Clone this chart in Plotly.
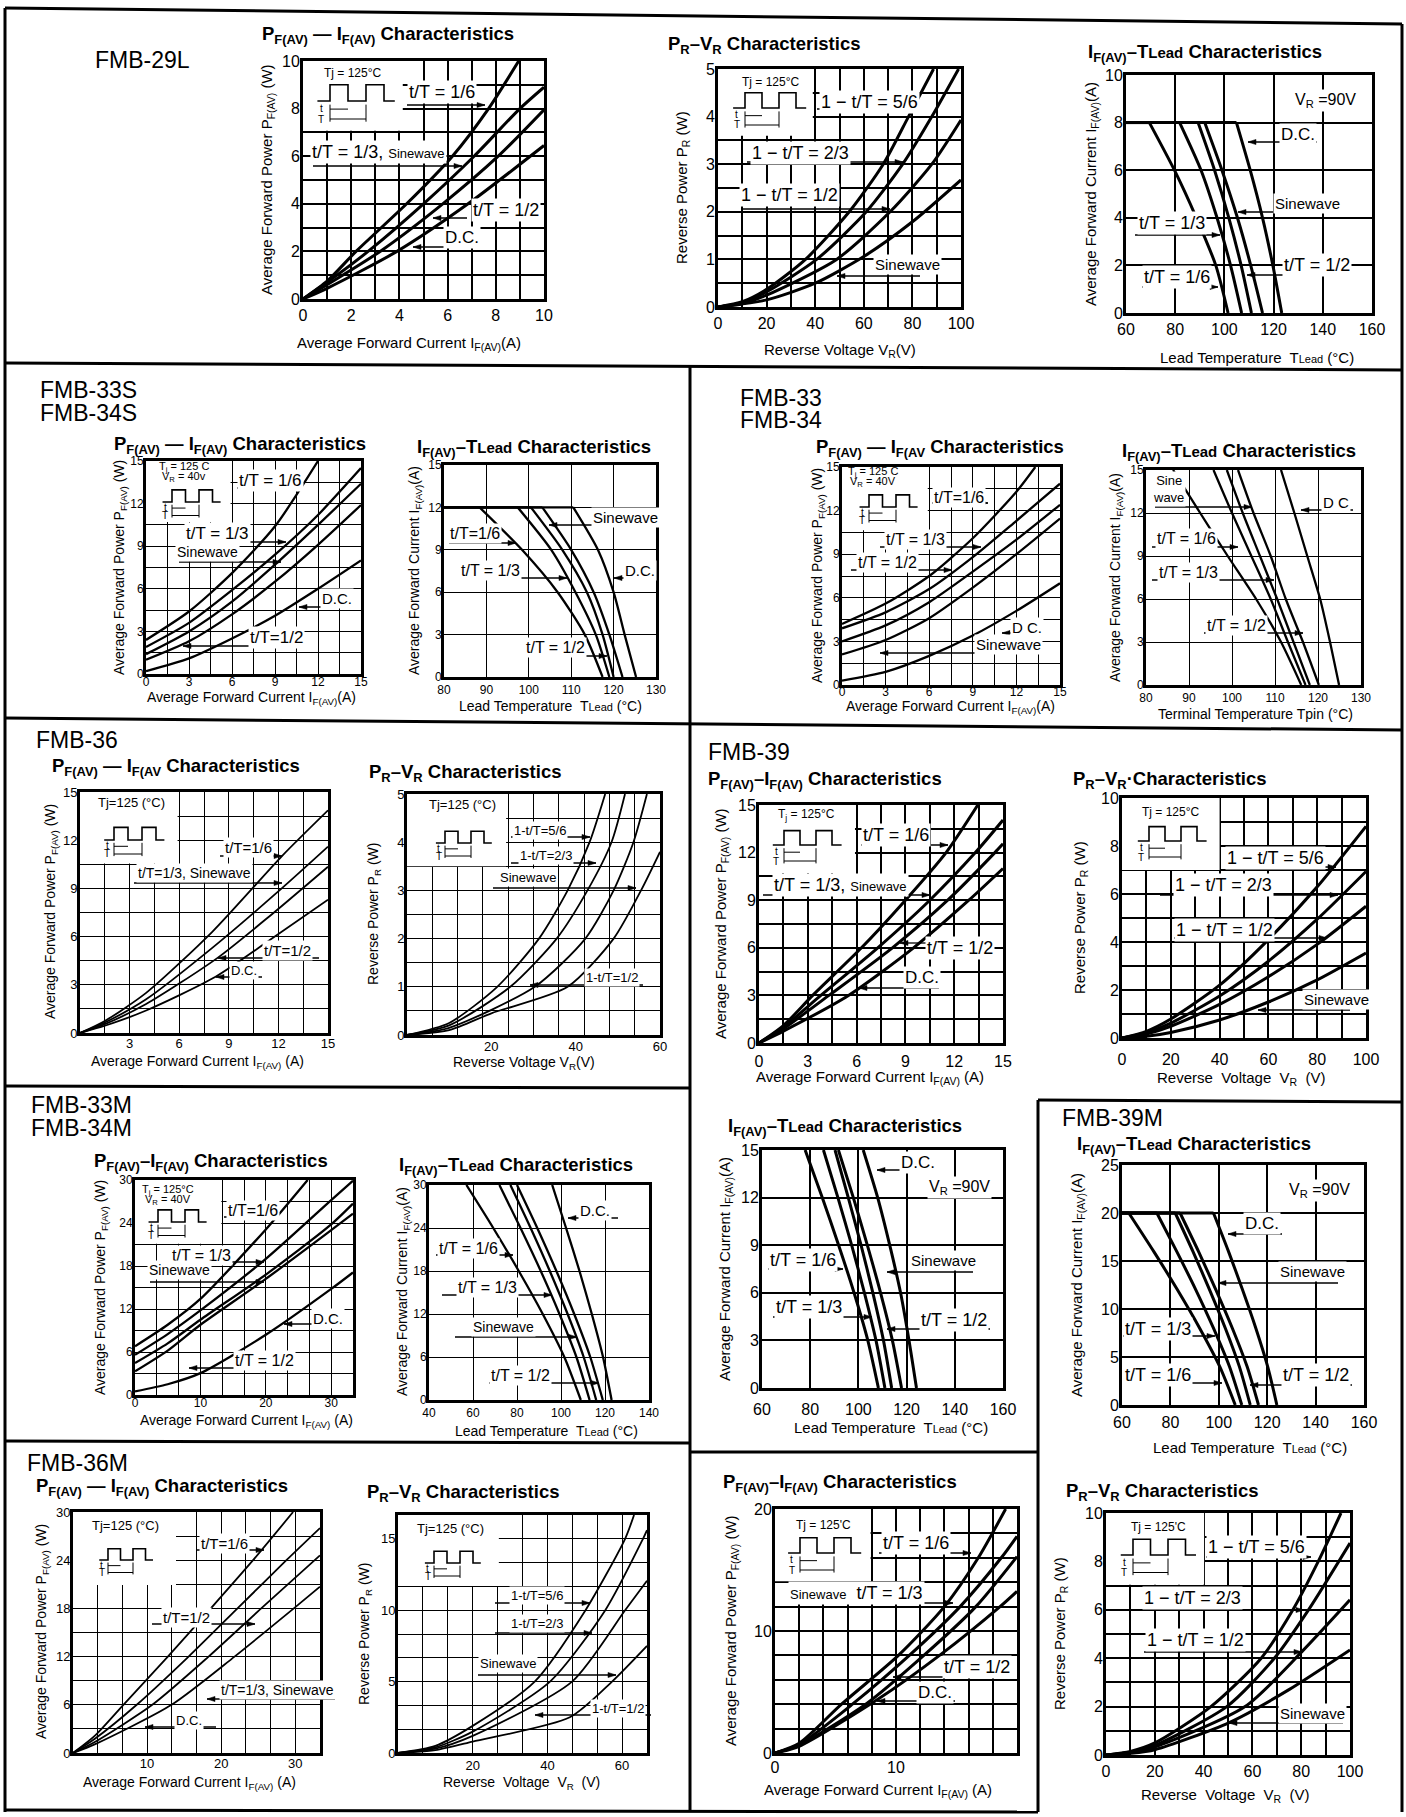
import math
import plotly.graph_objects as go

W, H = 1406, 1817
REG = "Liberation Sans, Arial, Helvetica, sans-serif"

# ---------------- tick label values ----------------
TL_0_10_2 = [0, 2, 4, 6, 8, 10]
TL_0_100_20 = [0, 20, 40, 60, 80, 100]
TL_0_5_1 = [0, 1, 2, 3, 4, 5]
TL_60_160_20 = [60, 80, 100, 120, 140, 160]
TL_0_15_3 = [0, 3, 6, 9, 12, 15]
TL_3_15_3 = [3, 6, 9, 12, 15]
TL_80_130_10 = [80, 90, 100, 110, 120, 130]
TL_20_60_20 = [20, 40, 60]
TL_0_30_10 = [0, 10, 20, 30]
TL_10_30_10 = [10, 20, 30]
TL_0_30_6 = [0, 6, 12, 18, 24, 30]
TL_40_140_20 = [40, 60, 80, 100, 120, 140]
TL_0_25_5 = [0, 5, 10, 15, 20, 25]
TL_0_15_5 = [0, 5, 10, 15]
TL_0_10_10 = [0, 10]
TL_0_20_10 = [0, 10, 20]

# ---------------- curve data ----------------
# FMB-29L  PF(AV)-IF(AV)
pf29_t16 = [(0, 0), (1, 0.75), (2.2, 2), (4.3, 4), (6.2, 6), (7.7, 8), (8.95, 10)]
pf29_t13 = [(0, 0), (1, 0.7), (2.7, 2), (5.0, 4), (7.1, 6), (9.0, 8), (10, 8.9)]
pf29_t12 = [(0, 0), (1, 0.6), (3.2, 2), (5.8, 4), (8.1, 6), (10, 7.95)]
pf29_dc = [(0, 0), (1, 0.45), (3.9, 2), (6.85, 4), (10, 6.45)]
# FMB-29L  PR-VR
pr29_56 = [(0, 0), (10, 0.11), (20, 0.37), (36, 1), (54, 2), (68, 3), (78.4, 4), (88.7, 5)]
pr29_23 = [(0, 0), (10, 0.09), (20, 0.32), (40.6, 1), (61, 2), (76, 3), (88, 4), (99, 5)]
pr29_12 = [(0, 0), (10, 0.07), (20, 0.25), (48.8, 1), (70.8, 2), (88, 3), (100, 3.93)]
pr29_sin = [(0, 0), (20, 0.15), (40, 0.5), (60, 1.06), (80, 1.79), (100, 2.67)]
# FMB-29L  IF(AV)-TLead
tl29_t16 = [(60, 8), (69.5, 8), (79.7, 6), (88.6, 4), (96.5, 2), (101.5, 0)]
tl29_t13 = [(60, 8), (81.8, 8), (90.5, 6), (97, 4), (102.5, 2), (107, 0)]
tl29_t12 = [(60, 8), (89.3, 8), (96, 6), (101.8, 4), (106.8, 2), (111, 0)]
tl29_sin = [(60, 8), (92, 8), (99, 6), (105.3, 4), (110.7, 2), (115.5, 0)]
tl29_dc = [(60, 8), (104.9, 8), (110.5, 6), (115.5, 4), (119.7, 2), (123.3, 0)]
# FMB-33S/34S  PF(AV)-IF(AV)
pf33s_t16 = [(0, 2.4), (3, 4.4), (6, 7.1), (9, 10.4), (12, 15)]
pf33s_t13 = [(0, 1.9), (3, 3.6), (6, 5.9), (9, 8.4), (12, 11.2), (15, 14.5)]
pf33s_sin = [(0, 1.4), (3, 3.0), (6, 5.1), (9, 7.7), (12, 10.5), (15, 13.4)]
pf33s_t12 = [(0, 1.0), (3, 2.3), (6, 4.2), (9, 6.5), (12, 9.1), (15, 11.9)]
pf33s_dc = [(0, 0.2), (3, 1.1), (6, 2.5), (9, 4.1), (12, 6.0), (15, 8.0)]
# FMB-33S/34S  IF(AV)-TLead
tl33s_t16 = [(80, 12), (88.4, 12), (98.4, 9), (106.8, 6), (113.2, 3), (117.4, 0)]
tl33s_t13 = [(80, 12), (97.4, 12), (105.3, 9), (111, 6), (115.8, 3), (119, 0)]
tl33s_t12 = [(80, 12), (100.5, 12), (107.9, 9), (113.7, 6), (117.4, 3), (120, 0)]
tl33s_sin = [(80, 12), (103.2, 12), (110, 9), (115.3, 6), (119, 3), (122.1, 0)]
tl33s_dc = [(80, 12), (110.5, 12), (116.3, 9), (120, 6), (122.6, 3), (125.3, 0)]
# FMB-33/34  PF(AV)-IF(AV)
pf33_t16 = [(0, 4.2), (3, 5.6), (6, 7.5), (9, 10.1), (12, 13.3), (13.3, 15)]
pf33_t13 = [(0, 3.9), (3, 5.0), (6, 6.6), (9, 8.8), (12, 11.3), (15, 13.85)]
pf33_t12 = [(0, 3.0), (3, 4.1), (6, 5.7), (9, 7.8), (12, 10.0), (15, 12.4)]
pf33_sin = [(0, 2.1), (3, 3.1), (6, 4.6), (9, 6.7), (12, 9.0), (15, 11.45)]
pf33_dc = [(0, 0.3), (3, 0.9), (6, 2.0), (9, 3.4), (12, 5.1), (15, 7.0)]
# FMB-33/34  IF(AV)-Tpin
tl33_t16 = [(86.3, 15), (92.6, 12), (99, 9), (105.6, 6), (111.4, 3), (116.1, 0)]
tl33_t13 = [(95.7, 15), (100, 12), (104.5, 9), (109, 6), (113, 3), (117.1, 0)]
tl33_t12 = [(98.8, 15), (102.5, 12), (106.5, 9), (110.5, 6), (114.3, 3), (118.1, 0)]
tl33_sin = [(101.4, 15), (105, 12), (109, 9), (112.5, 6), (116.5, 3), (120.2, 0)]
tl33_dc = [(111.4, 15), (114.5, 12), (117.5, 9), (120.5, 6), (122.8, 3), (124.9, 0)]
# FMB-36  PF(AV)-IF(AV)
pf36_t16 = [(0, 0), (1.5, 0.75), (4, 2.5), (8, 6.3), (12.2, 11.0), (15, 13.86)]
pf36_t13 = [(0, 0), (1.5, 0.65), (4, 2.1), (8, 5.3), (12.2, 9.0), (15, 11.6)]
pf36_t12 = [(0, 0), (1.5, 0.55), (4, 1.8), (8.3, 4.66), (11.5, 7.3), (15, 10.35)]
pf36_dc = [(0, 0), (1.5, 0.45), (4, 1.4), (8.2, 3.5), (11.5, 5.8), (15, 8.3)]
# FMB-36  PR-VR
pr36_56 = [(0, 0), (10, 0.25), (21.4, 1), (31.3, 2), (38.1, 3), (43.3, 4), (47, 5)]
pr36_23 = [(0, 0), (10, 0.2), (24.5, 1), (35.5, 2), (42.8, 3), (48.5, 4), (51.7, 5)]
pr36_12 = [(0, 0), (10, 0.15), (30.3, 1), (42.3, 2), (49, 3), (53.7, 4), (56.9, 5)]
pr36_sin = [(0, 0), (10, 0.1), (20, 0.45), (38.1, 1), (49, 2), (55.5, 3), (60, 3.8)]
# FMB-39  PF(AV)-IF(AV)
pf39_t16 = [(0, 0), (1.5, 1.1), (3.3, 3), (6.3, 6), (9, 9), (11.5, 12), (13.45, 15)]
pf39_t13 = [(0, 0), (1.5, 1.0), (3.8, 3), (7.3, 6), (10.5, 9), (13.3, 12), (15, 14.05)]
pf39_t12 = [(0, 0), (1.5, 0.9), (4.3, 3), (8.2, 6), (11.6, 9), (14.5, 12), (15, 12.55)]
pf39_dc = [(0, 0), (1.5, 0.75), (5.5, 3), (9.5, 6), (12.9, 9), (15, 11.0)]
# FMB-39  PR-VR
pr39_56 = [(0, 0), (10, 0.28), (20, 0.79), (40, 2.2), (60, 4.1), (80, 6.3), (100, 8.82)]
pr39_23 = [(0, 0), (10, 0.22), (20, 0.62), (40, 1.75), (60, 3.2), (80, 4.95), (100, 6.94)]
pr39_12 = [(0, 0), (10, 0.17), (20, 0.49), (40, 1.4), (60, 2.55), (80, 3.9), (100, 5.49)]
pr39_sin = [(0, 0), (10, 0.07), (20, 0.23), (40, 0.75), (60, 1.5), (80, 2.42), (100, 3.54)]
# FMB-33M/34M  PF(AV)-IF(AV)
pf33m_t16 = [(0, 6.8), (5, 9.8), (10, 13.4), (20, 23.1), (26.4, 30)]
pf33m_t13 = [(0, 5.6), (5, 8.5), (10, 11.8), (20, 19), (30, 27.2), (33.33, 29.9)]
pf33m_sin = [(0, 4.45), (5, 7.2), (10, 10.5), (20, 16.8), (30, 23.8), (33.33, 26.7)]
pf33m_t12 = [(0, 3.3), (5, 6.2), (10, 9.8), (20, 16.2), (30, 23), (33.33, 25.3)]
pf33m_dc = [(0, 0.5), (5, 1.5), (10, 3.05), (20, 8.4), (30, 14.8), (33.33, 17.1)]
# FMB-33M/34M  IF(AV)-TLead
tl33m_t16 = [(57, 30), (69.2, 24), (80.8, 18), (91.7, 12), (101.5, 6), (109, 0)]
tl33m_t13 = [(72, 30), (81.6, 24), (90.8, 18), (99.3, 12), (107, 6), (113, 0)]
tl33m_sin = [(77, 30), (86.2, 24), (94.9, 18), (103, 12), (110.3, 6), (116, 0)]
tl33m_t12 = [(80, 30), (89.2, 24), (97.9, 18), (106, 12), (113.3, 6), (119, 0)]
tl33m_dc = [(96, 30), (102.3, 24), (108.4, 18), (114, 12), (119.1, 6), (123, 0)]
# FMB-39  IF(AV)-TLead
tl39_t16 = [(77.9, 15), (85, 12), (91.8, 9), (98.2, 6), (103.9, 3), (108.3, 0)]
tl39_t13 = [(85.5, 15), (91.5, 12), (97.2, 9), (102.5, 6), (107.3, 3), (111, 0)]
tl39_sin = [(90.3, 15), (95.8, 12), (101.1, 9), (106, 6), (110.4, 3), (113.8, 0)]
tl39_t12 = [(91.7, 15), (97.9, 12), (103.7, 9), (109.2, 6), (114.1, 3), (117.9, 0)]
tl39_dc = [(102, 15), (108, 12), (113, 9), (117.5, 6), (121, 3), (124.1, 0)]
# FMB-39M  IF(AV)-TLead
tl39m_t16 = [(60, 20), (62.8, 20), (73.1, 16), (82.9, 12), (92.1, 8), (100.4, 4), (106.8, 0)]
tl39m_t13 = [(60, 20), (74.4, 20), (82.6, 16), (90.5, 12), (97.8, 8), (104.4, 4), (109.5, 0)]
tl39m_sin = [(60, 20), (82, 20), (89.3, 16), (96.2, 12), (102.7, 8), (108.5, 4), (113, 0)]
tl39m_t12 = [(60, 20), (84, 20), (91.6, 16), (98.8, 12), (105.6, 8), (111.7, 4), (116.4, 0)]
tl39m_dc = [(60, 20), (97.8, 20), (104, 16), (109.8, 12), (115.3, 8), (120.2, 4), (124, 0)]
# FMB-36M  PF(AV)-IF(AV)
pf36m_t16 = [(0, 0), (3, 2.2), (6.8, 6), (12.8, 12), (18.6, 18), (24.3, 24), (29.7, 30)]
pf36m_t12 = [(0, 0), (3, 1.8), (8.6, 6), (15.6, 12), (22.2, 18), (28.8, 24), (33.33, 28.0)]
pf36m_t13 = [(0, 0), (3, 1.4), (10.7, 6), (18.3, 12), (25.4, 18), (33.33, 24.6)]
pf36m_dc = [(0, 0), (3, 1.1), (13.3, 6), (21.8, 12), (29.8, 18), (33.33, 20.7)]
# FMB-36M  PR-VR
pr36m_56 = [(0, 0), (10, 0.5), (20, 1.9), (36.6, 5), (50.2, 10), (60.8, 15), (63.2, 16.67)]
pr36m_23 = [(0, 0), (10, 0.4), (20, 1.5), (40.7, 5), (55.5, 10), (65.6, 15), (66.67, 15.6)]
pr36m_sin = [(0, 0), (10, 0.3), (20, 1.2), (46.6, 5), (60.8, 10), (66.67, 12.06)]
pr36m_12 = [(0, 0), (10, 0.2), (20, 0.8), (46, 2.5), (57.3, 5), (66.67, 7.5)]
# FMB-39M  PF(AV)-IF(AV)
pf39m_t16 = [(0, 0), (2, 0.8), (5.5, 4), (10.2, 8), (14, 12), (16.8, 16), (19.06, 20)]
pf39m_t13 = [(0, 0), (2, 0.7), (6.4, 4), (11.1, 8), (15.3, 12), (18.7, 16), (20, 17.76)]
pf39m_t12 = [(0, 0), (2, 0.65), (7.5, 4), (12.3, 8), (16.6, 12), (20, 16.1)]
pf39m_dc = [(0, 0), (2, 0.55), (8.5, 4.4), (13.6, 8), (18.6, 12), (20, 13.25)]
# FMB-39M  PR-VR
pr39m_56 = [(0, 0), (10, 0.15), (20, 0.5), (43, 2), (63.6, 4), (76.6, 6), (87, 8), (96.3, 10)]
pr39m_23 = [(0, 0), (10, 0.12), (20, 0.4), (49.5, 2), (69, 4), (83, 6), (100, 8.76)]
pr39m_12 = [(0, 0), (10, 0.1), (20, 0.33), (57, 2), (80.4, 4.28), (100, 6.41)]
pr39m_sin = [(0, 0), (10, 0.07), (20, 0.22), (50.5, 1.34), (75, 2.7), (100, 4.34)]

# ---------------- texts ----------------
T_PFIF = "P<sub>F(AV)</sub> — I<sub>F(AV)</sub> Characteristics"
T_PFIF2 = "P<sub>F(AV)</sub>–I<sub>F(AV)</sub> Characteristics"
T_PFIF3 = "P<sub>F(AV)</sub> — I<sub>F(AV</sub> Characteristics"
T_PRVR = "P<sub>R</sub>–V<sub>R</sub> Characteristics"
T_PRVR2 = "P<sub>R</sub>–V<sub>R</sub>·Characteristics"
T_IFTL = "I<sub>F(AV)</sub>–T<span style=\"font-size:15px\">Lead</span> Characteristics"
X_PF = "Average Forward Current I<sub>F(AV)</sub>(A)"
X_PF2 = "Average Forward Current I<sub>F(AV)</sub> (A)"
Y_PF = "Average Forward Power P<sub>F(AV)</sub> (W)"
X_PR = "Reverse Voltage V<sub>R</sub>(V)"
X_PR2 = "Reverse  Voltage  V<sub>R</sub>  (V)"
Y_PR = "Reverse Power P<sub>R</sub> (W)"
X_TL = "Lead Temperature  T<span style=\"font-size:11px\">Lead</span> (°C)"
Y_TL = "Average Forward Current I<sub>F(AV)</sub>(A)"
X_TP = "Terminal Temperature Tpin (°C)"
SMS = "<span style=\"font-size:13px\">Sinewave</span>"

# x tick-label standoff per chart (px)
XSO = {1: 0, 2: 0, 3: 0, 4: -5, 5: 0, 6: -6, 7: 0, 8: -4, 9: -3, 10: 2, 11: 5, 12: -5, 13: 0,
       14: 5, 15: 1, 16: -4, 17: -2, 18: -2, 19: 0}

specs = []


def spec(**k):
    specs.append(k)


# 1 FMB-29L PF-IF
spec(box=(303, 61, 544, 299), xr=(0, 10), yr=(0, 10), xg=1, yg=1, xl=TL_0_10_2, yl=TL_0_10_2, st='R',
     curves=[pf29_t16, pf29_t13, pf29_t12, pf29_dc],
     title=(T_PFIF, 388, 35), xt=(X_PF, 409, 343), yt=(Y_PF, 267, 180),
     inset=(0, 4.14, 7.07, 10), wave=(330, 101, 18), itexts=[("Tj = 125°C", 352, 73, 12)],
     labels=[("t/T = 1/6", 442, 92, 18), ("t/T = 1/3, " + SMS, 378, 152, 18),
             ("t/T = 1/2", 506, 210, 18), ("D.C.", 462, 238, 17)],
     arrows=[(407, 105, 485, 105), (313, 166, 462, 166), (467, 218, 433, 218), (478, 247, 413, 247)])
# 2 FMB-29L PR-VR
spec(box=(718, 69, 961, 307), xr=(0, 100), yr=(0, 5), xg=10, yg=0.5, xl=TL_0_100_20, yl=TL_0_5_1, st='R',
     curves=[pr29_56, pr29_23, pr29_12, pr29_sin],
     title=(T_PRVR, 764, 45), xt=(X_PR, 840, 350), yt=(Y_PR, 682, 188),
     inset=(0, 39, 3.6, 5), wave=(745, 108, 17), itexts=[("Tj = 125°C", 770, 82, 12)],
     labels=[("1 − t/T = 5/6", 869, 102, 18), ("1 − t/T = 2/3", 800, 153, 18),
             ("1 − t/T = 1/2", 790, 195, 18), ("Sinewave", 907, 264, 15)],
     arrows=[(817, 109, 913, 109), (747, 162, 903, 162), (742, 209, 890, 209), (920, 276, 837, 276)])
# 3 FMB-29L IF-TLead
spec(box=(1126, 75, 1372, 313), xr=(60, 160), yr=(0, 10), xg=20, yg=2, xl=TL_60_160_20, yl=TL_0_10_2, st='R',
     curves=[tl29_t16, tl29_t13, tl29_t12, tl29_sin, tl29_dc],
     title=(T_IFTL, 1205, 53), xt=(X_TL, 1257, 357), yt=(Y_TL, 1092, 194),
     labels=[("V<sub>R</sub> =90V", 1325, 100, 16), ("D.C.", 1298, 135, 17), ("Sinewave", 1307, 203, 15),
             ("t/T = 1/3", 1172, 223, 18), ("t/T = 1/6", 1177, 277, 18), ("t/T = 1/2", 1317, 265, 18)],
     arrows=[(1317, 142, 1248, 142), (1333, 212, 1238, 212), (1135, 235, 1220, 235),
             (1142, 287, 1218, 287), (1348, 275, 1247, 275)])
# 4 FMB-33S PF-IF
spec(box=(146, 461, 361, 674), xr=(0, 15), yr=(0, 15), xg=1.5, yg=1.5, xl=TL_0_15_3, yl=TL_0_15_3, st='N',
     curves=[pf33s_t16, pf33s_t13, pf33s_sin, pf33s_t12, pf33s_dc],
     title=(T_PFIF, 240, 445), xt=(X_PF, 251, 698), yt=(Y_PF, 120, 567),
     inset=(0, 5.9, 10.7, 15), wave=(172, 502, 13.5),
     itexts=[("T<sub>j</sub> = 125 C", 184, 467, 11), ("V<sub>R</sub> = 40v", 184, 477, 11)],
     labels=[("t/T = 1/6", 270, 480, 20), ("t/T = 1/3", 217, 533, 20), ("Sinewave", 207, 552, 17),
             ("D.C.", 337, 598, 18), ("t/T=1/2", 276, 638, 20)],
     arrows=[(237, 488, 297, 488), (192, 542, 286, 542), (179, 562, 281, 562),
             (348, 607, 299, 607), (304, 646, 183, 646)])
# 5 FMB-33S IF-TLead
spec(box=(444, 465, 656, 677), xr=(80, 130), yr=(0, 15), xg=10, yg=3, xl=TL_80_130_10, yl=TL_0_15_3, st='N',
     curves=[tl33s_t16, tl33s_t13, tl33s_t12, tl33s_sin, tl33s_dc],
     title=(T_IFTL, 534, 448), xt=(X_TL, 550, 706), yt=(Y_TL, 415, 571),
     labels=[("Sinewave", 625, 517, 18), ("t/T=1/6", 475, 533, 19), ("t/T = 1/3", 490, 570, 19),
             ("D.C.", 640, 570, 18), ("t/T = 1/2", 555, 647, 19)],
     arrows=[(645, 525, 549, 525), (449, 543, 516, 543), (460, 578, 567, 578),
             (650, 578, 614, 578), (525, 656, 607, 656)])
# 6 FMB-33 PF-IF
spec(box=(842, 467, 1060, 685), xr=(0, 15), yr=(0, 15), xg=1.5, yg=1.5, xl=TL_0_15_3, yl=TL_0_15_3, st='N',
     curves=[pf33_t16, pf33_t13, pf33_t12, pf33_sin, pf33_dc],
     title=(T_PFIF3, 940, 448), xt=(X_PF, 950, 707), yt=(Y_PF, 818, 576),
     inset=(0, 5.9, 10.65, 15), wave=(869, 507, 13.5),
     itexts=[("T<sub>j</sub> = 125 C", 873, 472, 11), ("V<sub>R</sub> = 40V", 873, 482, 11)],
     labels=[("t/T=1/6", 959, 497, 19), ("t/T = 1/3", 915, 540, 19), ("t/T = 1/2", 887, 562, 19),
             ("D C.", 1027, 627, 18), ("Sinewave", 1008, 644, 18)],
     arrows=[(932, 503, 988, 503), (880, 547, 981, 547), (851, 570, 952, 570),
             (1042, 633, 1002, 633), (1035, 653, 880, 653)])
# 7 FMB-33 IF-Tpin
spec(box=(1146, 470, 1361, 685), xr=(80, 130), yr=(0, 15), xg=10, yg=3, xl=TL_80_130_10, yl=TL_0_15_3, st='N',
     curves=[tl33_t16, tl33_t13, tl33_t12, tl33_sin, tl33_dc],
     title=(T_IFTL, 1239, 452), xt=(X_TP, 1255, 714), yt=(Y_TL, 1116, 578),
     labels=[("Sine<br>wave", 1168, 489, 16), ("D C", 1336, 502, 18), ("t/T = 1/6", 1186, 538, 19),
             ("t/T = 1/3", 1188, 572, 19), ("t/T = 1/2", 1236, 625, 19)],
     arrows=[(1155, 507, 1252, 507), (1353, 510, 1301, 510), (1152, 547, 1238, 547),
             (1152, 580, 1274, 580), (1204, 633, 1303, 633)])
# 8 FMB-36 PF-IF
spec(box=(80, 792, 328, 1033), xr=(0, 15), yr=(0, 15), xg=1.5, yg=1.5, xl=TL_3_15_3, yl=TL_0_15_3, st='N2',
     curves=[pf36_t16, pf36_t13, pf36_t12, pf36_dc],
     title=(T_PFIF3, 176, 767), xt=(X_PF2, 197, 1062), yt=(Y_PF, 51, 912),
     inset=(0, 5.9, 10.55, 15), wave=(114, 840, 14), itexts=[("Tj=125 (°C)", 131, 802, 15)],
     labels=[("t/T=1/6", 248, 848, 18), ("t/T=1/3, Sinewave", 194, 873, 17), ("t/T=1/2", 287, 950, 18),
             ("D.C.", 244, 970, 15)],
     arrows=[(220, 856, 282, 856), (134, 883, 282, 883), (319, 958, 218, 958), (262, 977, 216, 977)])
# 9 FMB-36 PR-VR  (labels 20/40 do not fall on the 6 V grid)
spec(box=(407, 794, 660, 1035), xr=(0, 60), yr=(0, 5), xg=6, yg=0.5, xl=TL_20_60_20, yl=TL_0_5_1, st='N2',
     xoff=True,
     curves=[pr36_56, pr36_23, pr36_12, pr36_sin],
     title=(T_PRVR, 465, 773), xt=(X_PR, 524, 1063), yt=(Y_PR, 374, 914),
     inset=(0, 23.5, 3.5, 5), wave=(445, 843, 13), itexts=[("Tj=125 (°C)", 462, 805, 15)],
     labels=[("1-t/T=5/6", 540, 830, 16), ("1-t/T=2/3", 546, 855, 16), ("Sinewave", 528, 877, 16),
             ("1-t/T=1/2", 612, 977, 16)],
     arrows=[(511, 837, 590, 837), (511, 863, 596, 863), (493, 888, 636, 888), (643, 985, 530, 985)])
# 10 FMB-39 PF-IF
spec(box=(759, 805, 1003, 1043), xr=(0, 15), yr=(0, 15), xg=1.5, yg=1.5, xl=TL_0_15_3, yl=TL_0_15_3, st='R',
     curves=[pf39_t16, pf39_t13, pf39_t12, pf39_dc],
     title=(T_PFIF2, 825, 780), xt=(X_PF2, 870, 1077), yt=(Y_PF, 722, 924),
     inset=(0, 5.9, 10.7, 15), wave=(784, 845, 16), itexts=[("T<sub>j</sub> = 125°C", 806, 815, 12)],
     labels=[("t/T = 1/6", 896, 835, 18), ("t/T = 1/3, " + SMS, 840, 885, 18),
             ("t/T = 1/2", 960, 948, 18), ("D.C.", 922, 978, 17)],
     arrows=[(861, 845, 948, 845), (763, 895, 930, 895), (927, 943, 900, 943), (939, 988, 859, 988)])
# 11 FMB-39 PR-VR
spec(box=(1122, 798, 1366, 1038), xr=(0, 100), yr=(0, 10), xg=10, yg=1, xl=TL_0_100_20, yl=TL_0_10_2, st='R',
     curves=[pr39_56, pr39_23, pr39_12, pr39_sin],
     title=(T_PRVR2, 1170, 780), xt=(X_PR2, 1241, 1078), yt=(Y_PR, 1080, 918),
     inset=(0, 40, 7, 10), wave=(1149, 841, 16), itexts=[("Tj = 125°C", 1170, 812, 12)],
     labels=[("1 − t/T = 5/6", 1275, 858, 18), ("1 − t/T = 2/3", 1223, 885, 18),
             ("1 − t/T = 1/2", 1224, 930, 18), ("Sinewave", 1336, 1000, 15)],
     arrows=[(1229, 867, 1336, 867), (1160, 895, 1338, 895), (1174, 938, 1327, 938), (1350, 1010, 1258, 1010)])
# 12 FMB-33M PF-IF
spec(box=(135, 1180, 353, 1395), xr=(0, 100 / 3), yr=(0, 30), xg=10 / 3, yg=3, xl=TL_0_30_10, yl=TL_0_30_6, st='N',
     curves=[pf33m_t16, pf33m_t13, pf33m_sin, pf33m_t12, pf33m_dc],
     title=(T_PFIF2, 211, 1162), xt=(X_PF2, 246, 1421), yt=(Y_PF, 101, 1287),
     inset=(0, 13.2, 21.1, 30), wave=(158, 1222, 13.5),
     itexts=[("T<sub>j</sub> = 125°C", 168, 1190, 11), ("V<sub>R</sub> = 40V", 168, 1200, 11)],
     labels=[("t/T=1/6", 253, 1210, 19), ("t/T = 1/3", 202, 1255, 19), ("Sinewave", 179, 1270, 17),
             ("D.C.", 328, 1318, 18), ("t/T = 1/2", 264, 1360, 19)],
     arrows=[(224, 1217, 275, 1217), (167, 1262, 264, 1262), (150, 1282, 264, 1282),
             (341, 1324, 284, 1324), (284, 1368, 189, 1368)])
# 13 FMB-33M IF-TLead
spec(box=(429, 1185, 649, 1400), xr=(40, 140), yr=(0, 30), xg=20, yg=6, xl=TL_40_140_20, yl=TL_0_30_6, st='N',
     curves=[tl33m_t16, tl33m_t13, tl33m_sin, tl33m_t12, tl33m_dc],
     title=(T_IFTL, 516, 1166), xt=(X_TL, 546, 1431), yt=(Y_TL, 403, 1292),
     labels=[("D.C.", 595, 1210, 18), ("t/T = 1/6", 468, 1248, 19), ("t/T = 1/3", 487, 1287, 19),
             ("Sinewave", 503, 1327, 17), ("t/T = 1/2", 520, 1375, 19)],
     arrows=[(618, 1218, 568, 1218), (436, 1255, 513, 1255), (442, 1295, 552, 1295),
             (455, 1337, 577, 1337), (489, 1383, 599, 1383)])
# 14 FMB-39 IF-TLead
spec(box=(762, 1150, 1003, 1388), xr=(60, 160), yr=(0, 15), xg=20, yg=3, xl=TL_60_160_20, yl=TL_0_15_3, st='R',
     curves=[tl39_t16, tl39_t13, tl39_sin, tl39_t12, tl39_dc],
     title=(T_IFTL, 845, 1127), xt=(X_TL, 891, 1427), yt=(Y_TL, 725, 1269),
     labels=[("D.C.", 918, 1162, 17), ("V<sub>R</sub> =90V", 960, 1187, 16), ("t/T = 1/6", 803, 1260, 18),
             ("Sinewave", 943, 1260, 15), ("t/T = 1/3", 809, 1307, 18), ("t/T = 1/2", 954, 1320, 18)],
     arrows=[(935, 1170, 877, 1170), (768, 1269, 843, 1269), (973, 1272, 887, 1272),
             (773, 1317, 872, 1317), (990, 1329, 887, 1329)])
# 15 FMB-39M IF-TLead
spec(box=(1122, 1165, 1364, 1405), xr=(60, 160), yr=(0, 25), xg=20, yg=5, xl=TL_60_160_20, yl=TL_0_25_5, st='R',
     curves=[tl39m_t16, tl39m_t13, tl39m_sin, tl39m_t12, tl39m_dc],
     title=(T_IFTL, 1194, 1145), xt=(X_TL, 1250, 1447), yt=(Y_TL, 1077, 1285),
     labels=[("V<sub>R</sub> =90V", 1319, 1190, 16), ("D.C.", 1262, 1223, 17), ("Sinewave", 1312, 1271, 15),
             ("t/T = 1/3", 1158, 1329, 18), ("t/T = 1/6", 1158, 1375, 18), ("t/T = 1/2", 1316, 1375, 18)],
     arrows=[(1282, 1234, 1228, 1234), (1338, 1283, 1218, 1283), (1123, 1336, 1215, 1336),
             (1140, 1383, 1222, 1383), (1352, 1385, 1250, 1385)])
# 16 FMB-36M PF-IF
spec(box=(73, 1512, 320, 1753), xr=(0, 100 / 3), yr=(0, 30), xg=10 / 3, yg=3, xl=TL_10_30_10, yl=TL_0_30_6, st='N2',
     curves=[pf36m_t16, pf36m_t12, pf36m_t13, pf36m_dc],
     title=(T_PFIF, 162, 1487), xt=(X_PF2, 189, 1783), yt=(Y_PF, 42, 1632),
     inset=(0, 13.9, 20.9, 30), wave=(108, 1560, 12.5), itexts=[("Tj=125 (°C)", 125, 1525, 15)],
     labels=[("t/T=1/6", 224, 1543, 18), ("t/T=1/2", 186, 1617, 18), ("t/T=1/3, Sinewave", 277, 1690, 17),
             ("D.C.", 189, 1720, 15)],
     arrows=[(196, 1550, 264, 1550), (152, 1624, 255, 1624), (335, 1699, 207, 1699), (216, 1727, 145, 1727)])
# 17 FMB-36M PR-VR
spec(box=(398, 1515, 647, 1753), xr=(0, 200 / 3), yr=(0, 50 / 3), xg=20 / 3, yg=5 / 3, xl=TL_20_60_20, yl=TL_0_15_5,
     st='N2',
     curves=[pr36m_56, pr36m_23, pr36m_sin, pr36m_12],
     title=(T_PRVR, 463, 1493), xt=(X_PR2, 521, 1783), yt=(Y_PR, 365, 1634),
     inset=(0, 27, 11.7, 50 / 3), wave=(434, 1563, 13), itexts=[("Tj=125 (°C)", 451, 1528, 15)],
     labels=[("1-t/T=5/6", 537, 1595, 16), ("1-t/T=2/3", 537, 1623, 16), ("Sinewave", 508, 1663, 16),
             ("1-t/T=1/2", 618, 1708, 16)],
     arrows=[(495, 1603, 590, 1603), (495, 1633, 592, 1633), (478, 1675, 616, 1675), (651, 1715, 535, 1715)])
# 18 FMB-39M PF-IF
spec(box=(775, 1509, 1017, 1753), xr=(0, 20), yr=(0, 20), xg=2, yg=2, xl=TL_0_10_10, yl=TL_0_20_10, st='R',
     curves=[pf39m_t16, pf39m_t13, pf39m_t12, pf39m_dc],
     title=(T_PFIF2, 840, 1483), xt=(X_PF2, 878, 1790), yt=(Y_PF, 731, 1631),
     inset=(0, 7.9, 14.07, 20), wave=(800, 1553, 17), itexts=[("Tj = 125'C", 823, 1525, 12)],
     labels=[("t/T = 1/6", 916, 1543, 18), (SMS + "  t/T = 1/3", 856, 1593, 18),
             ("t/T = 1/2", 977, 1667, 18), ("D.C.", 935, 1692, 17)],
     arrows=[(879, 1553, 971, 1553), (804, 1603, 953, 1603), (991, 1677, 893, 1677), (955, 1701, 877, 1701)])
# 19 FMB-39M PR-VR
spec(box=(1106, 1513, 1350, 1755), xr=(0, 100), yr=(0, 10), xg=10, yg=1, xl=TL_0_100_20, yl=TL_0_10_2, st='R',
     curves=[pr39m_56, pr39m_23, pr39m_12, pr39m_sin],
     title=(T_PRVR, 1162, 1492), xt=(X_PR2, 1225, 1795), yt=(Y_PR, 1060, 1634),
     inset=(0, 40.2, 7.03, 10), wave=(1133, 1555, 17.5), itexts=[("Tj = 125'C", 1158, 1527, 12)],
     labels=[("1 − t/T = 5/6", 1256, 1547, 18), ("1 − t/T = 2/3", 1192, 1598, 18),
             ("1 − t/T = 1/2", 1195, 1640, 18), ("Sinewave", 1312, 1713, 15)],
     arrows=[(1206, 1557, 1311, 1557), (1135, 1610, 1304, 1610), (1144, 1652, 1302, 1652),
             (1343, 1723, 1229, 1723)])

models = [("FMB-29L", 93, 60), ("FMB-33S", 38, 390), ("FMB-34S", 38, 413), ("FMB-33", 738, 398),
          ("FMB-34", 738, 420), ("FMB-36", 34, 740), ("FMB-39", 706, 752), ("FMB-33M", 29, 1105),
          ("FMB-34M", 29, 1128), ("FMB-39M", 1060, 1118), ("FMB-36M", 25, 1463)]

# ---------------- build ----------------
fig = go.Figure()
annotations = []
shapes = []
layout = dict(width=W, height=H, margin=dict(l=0, r=0, t=0, b=0), paper_bgcolor='white',
              plot_bgcolor='white', showlegend=False, template='none',
              font=dict(family=REG, color='black'))


def P(x, y):
    return '%.5f,%.5f' % (x / W, 1 - y / H)


def ann(text, x, y, size, weight='normal', bg=None, xanchor='center', angle=0):
    d = dict(text=text, x=x / W, y=1 - y / H, xref='paper', yref='paper', showarrow=False,
             font=dict(size=size, family=REG, color='black', weight=weight),
             xanchor=xanchor, yanchor='middle', textangle=angle)
    if bg:
        d.update(bgcolor=bg, borderpad=1)
    annotations.append(d)


def pline(x0, y0, x1, y1, w=2.5):
    shapes.append(dict(type='line', xref='paper', yref='paper', x0=x0 / W, y0=1 - y0 / H,
                       x1=x1 / W, y1=1 - y1 / H, line=dict(color='black', width=w), layer='above'))


def arrow(tx, ty, hx, hy, w=1.3):
    pline(tx, ty, hx, hy, w)
    dx, dy = hx - tx, hy - ty
    ln = math.hypot(dx, dy) or 1.0
    ux, uy = dx / ln, dy / ln
    bx, by = hx - ux * 8, hy - uy * 8
    p1 = (bx - uy * 2.6, by + ux * 2.6)
    p2 = (bx + uy * 2.6, by - ux * 2.6)
    shapes.append(dict(type='path', path='M %s L %s L %s Z' % (P(hx, hy), P(*p1), P(*p2)),
                       xref='paper', yref='paper', fillcolor='black', line=dict(color='black', width=0.5),
                       layer='above'))


def wave(ox, oy, p, w=1.6):
    h = 0.9 * p
    pts = [(ox - 0.7 * p, oy), (ox, oy), (ox, oy - h), (ox + p, oy - h), (ox + p, oy), (ox + 2 * p, oy),
           (ox + 2 * p, oy - h), (ox + 3 * p, oy - h), (ox + 3 * p, oy), (ox + 3.6 * p, oy)]
    path = 'M ' + ' L '.join(P(x, y) for x, y in pts)
    shapes.append(dict(type='path', path=path, xref='paper', yref='paper',
                       line=dict(color='black', width=w), layer='above'))
    pline(ox, oy + 0.45 * p, ox + p, oy + 0.45 * p, 1)
    pline(ox, oy + 1.0 * p, ox + 2 * p, oy + 1.0 * p, 1)
    pline(ox, oy + 0.2 * p, ox, oy + 1.15 * p, 1)
    pline(ox + 2 * p, oy + 0.2 * p, ox + 2 * p, oy + 1.15 * p, 1)
    ann('t', ox - 0.5 * p, oy + 0.4 * p, 10)
    ann('T', ox - 0.5 * p, oy + 1.0 * p, 10)


def grid_vals(r, step):
    n = int(round((r[1] - r[0]) / step))
    return [r[0] + k * step for k in range(n + 1)]


for i, s in enumerate(specs, start=1):
    a = '' if i == 1 else str(i)
    L, T, R, B = s['box']
    st = s['st']
    tfs = 16 if st == 'R' else (12 if st == 'N' else 13)
    gw = 2.0 if st == 'R' else 1.4
    cw = 3.0 if st == 'R' else (2.3 if st == 'N' else 1.8)
    k = 1.0 if st == 'R' else 0.84          # narrow-font compensation
    gx = grid_vals(s['xr'], s['xg'])
    gy = grid_vals(s['yr'], s['yg'])
    common = dict(showline=True, mirror=True, linecolor='black', linewidth=3,
                  gridcolor='black', gridwidth=gw, zeroline=False, ticks='', tickmode='array',
                  tickangle=0, tickfont=dict(family=REG, size=tfs, color='black'), fixedrange=True)
    layout['xaxis' + a] = dict(common, domain=[L / W, R / W], range=list(s['xr']), anchor='y' + a,
                               tickvals=s['xl'], ticktext=[str(v) for v in s['xl']],
                               showgrid=not s.get('xoff', False), ticklabelstandoff=XSO[i],
                               minor=dict(tickvals=gx, showgrid=True, gridcolor='black', gridwidth=gw,
                                          ticks=''))
    layout['yaxis' + a] = dict(common, domain=[1 - B / H, 1 - T / H], range=list(s['yr']), anchor='x' + a,
                               tickvals=s['yl'], ticktext=[str(v) for v in s['yl']], showgrid=True,
                               ticklabelstandoff=-3,
                               minor=dict(tickvals=gy, showgrid=True, gridcolor='black', gridwidth=gw,
                                          ticks=''))
    # curves
    for c in s['curves']:
        xs = [p[0] for p in c]
        ys = [p[1] for p in c]
        if len(c) > 2 and ys[0] == ys[1]:
            fig.add_trace(go.Scatter(x=xs[:2], y=ys[:2], mode='lines', xaxis='x' + a, yaxis='y' + a,
                                     line=dict(color='black', width=cw), hoverinfo='skip', showlegend=False))
            xs, ys = xs[1:], ys[1:]
        fig.add_trace(go.Scatter(x=xs, y=ys, mode='lines', xaxis='x' + a, yaxis='y' + a,
                                 line=dict(color='black', width=cw, shape='spline', smoothing=0.7),
                                 hoverinfo='skip', showlegend=False))
    # inset white box
    if s.get('inset'):
        x0, x1, y0, y1 = s['inset']
        shapes.append(dict(type='rect', xref='x' + a, yref='y' + a, x0=x0, x1=x1, y0=y0, y1=y1,
                           fillcolor='white', line=dict(width=0), layer='between'))
    if s.get('wave'):
        wave(*s['wave'])
    for (t, x, y, fs) in s.get('itexts', []):
        ann(t, x, y, round(fs * (1 if st != 'N2' else 0.85)))
    # titles
    t, x, y = s['title']
    ann(t, x, y, 18.5, weight='bold')
    t, x, y = s['xt']
    ann(t, x, y, 15 if st == 'R' else 14)
    t, x, y = s['yt']
    ann(t, x, y, 15 if st == 'R' else 14, angle=-90)
    for (tx, ty, hx, hy) in s['arrows']:
        arrow(tx, ty, hx, hy)
    for (t, x, y, fs) in s['labels']:
        ann(t, x, y, round(fs * k), bg='white')

for (t, x, y) in models:
    ann(t, x, y, 23, xanchor='left')

# page frame / separators
pline(5, 8, 1402, 24, 3)
pline(5, 8, 5, 1812, 3)
pline(1402, 24, 1402, 1812, 3)
pline(5, 363, 1402, 370, 3)
pline(690, 366, 690, 1812, 3)
pline(5, 718, 1402, 730, 3)
pline(5, 1086, 690, 1088, 3)
pline(1038, 1100, 1402, 1102, 3)
pline(1038, 1100, 1038, 1812, 3)
pline(5, 1441, 690, 1443, 3)
pline(690, 1452, 1038, 1452, 3)
pline(5, 1810, 1038, 1812, 3)

layout['annotations'] = annotations
layout['shapes'] = shapes
fig.update_layout(**layout)
fig.write_html("out.html", config={'displayModeBar': False},
               post_script="document.body.style.margin='0';document.body.style.overflow='hidden';")
